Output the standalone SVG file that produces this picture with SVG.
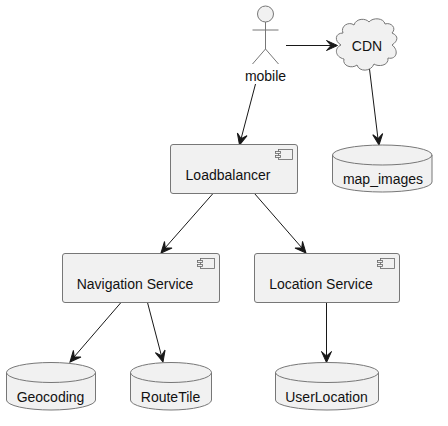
<svg xmlns="http://www.w3.org/2000/svg" width="448" height="426" viewBox="0 0 448 426">
<style>
.s{fill:#F1F1F1;stroke:#666;stroke-width:.8}
.n{fill:#F1F1F1;stroke:#777;stroke-width:1}
.o{fill:none;stroke:#777;stroke-width:1}
.t{font-family:"Liberation Sans",Arial,sans-serif;font-size:14px;fill:#111;text-anchor:middle}
.c{fill:none;stroke:#181818;stroke-width:1}
.a{fill:#181818;stroke:#181818;stroke-width:1;stroke-linejoin:miter}
</style>
<defs>
<path id="h" class="a" d="M0 0L-5 -11L0 -6.500L5 -11Z"/>
<g id="icon"><rect class="s" x="3.500" y="0" width="14" height="10"/><rect class="s" x="0.500" y="2" width="5" height="2"/><rect class="s" x="0.500" y="6" width="5" height="2"/></g>
</defs>
<rect width="448" height="426" fill="#fff"/>
<g id="connectors">
<path class="c" d="M286 45.500H332"/><use href="#h" transform="translate(337.500 45.500) rotate(-90)"/>
<path class="c" d="M369.500 69L378 139"/><use href="#h" transform="translate(379 145) rotate(-6.700)"/>
<path class="c" d="M255.500 84L241 139"/><use href="#h" transform="translate(239.500 145) rotate(14.300)"/>
<path class="c" d="M213 193.500L165 248"/><use href="#h" transform="translate(161 253) rotate(41.400)"/>
<path class="c" d="M254.500 193.500L302 248"/><use href="#h" transform="translate(306 253) rotate(-41.200)"/>
<path class="c" d="M121 302.500L74 357"/><use href="#h" transform="translate(70 362) rotate(40.800)"/>
<path class="c" d="M147.500 302.500L161.500 356"/><use href="#h" transform="translate(163 362) rotate(-14.600)"/>
<path class="c" d="M326.500 302.500V356"/><use href="#h" transform="translate(326.500 362.500)"/>
</g>
<g id="mobile">
<circle class="n" cx="265.500" cy="14" r="8"/>
<path class="o" d="M265.500 22V49M252.500 30H278.500M265.500 49L252.500 64M265.500 49L278.500 64"/>
<text class="t" x="265.500" y="81">mobile</text>
</g>
<g id="CDN">
<path class="n" d="M343 33C340 26 349 21 354 25C356 18 366 18 369 22C373 17 384 18 385 24C391 22 397 28 392 33C399 36 398 41 392 45C399 50 397 60 388 58C389 66 378 67 374 64C371 72 359 72 357 65C352 69 342 66 344 59C335 57 334 48 341 45C334 41 335 33 343 33Z"/>
<text class="t" x="367" y="51">CDN</text>
</g>
<g id="map_images">
<path class="n" d="M332.500 155A49.750 10 0 0 1 432 155V182A49.750 10 0 0 1 332.500 182Z"/>
<path class="o" d="M332.500 155A49.750 10 0 0 0 432 155"/>
<text class="t" x="383" y="184">map_images</text>
</g>
<g id="Loadbalancer">
<rect class="n" x="170.500" y="144.500" width="127" height="49" rx="2.500"/>
<use href="#icon" transform="translate(275 149.500)"/>
<text class="t" x="228" y="180">Loadbalancer</text>
</g>
<g id="NavigationService">
<rect class="n" x="62.500" y="253.500" width="157" height="49" rx="2.500"/>
<use href="#icon" transform="translate(197 258.500)"/>
<text class="t" x="135" y="289">Navigation Service</text>
</g>
<g id="LocationService">
<rect class="n" x="254.500" y="253.500" width="145" height="49" rx="2.500"/>
<use href="#icon" transform="translate(377 258.500)"/>
<text class="t" x="321" y="289">Location Service</text>
</g>
<g id="Geocoding">
<path class="n" d="M6.500 372.500A44.500 10 0 0 1 95.500 372.500V400A44.500 10 0 0 1 6.500 400Z"/>
<path class="o" d="M6.500 372.500A44.500 10 0 0 0 95.500 372.500"/>
<text class="t" x="50.500" y="402">Geocoding</text>
</g>
<g id="RouteTile">
<path class="n" d="M130.500 372.500A40.500 10 0 0 1 211.500 372.500V400A40.500 10 0 0 1 130.500 400Z"/>
<path class="o" d="M130.500 372.500A40.500 10 0 0 0 211.500 372.500"/>
<text class="t" x="170.500" y="402">RouteTile</text>
</g>
<g id="UserLocation">
<path class="n" d="M275.500 372.500A51.500 10 0 0 1 378.500 372.500V400A51.500 10 0 0 1 275.500 400Z"/>
<path class="o" d="M275.500 372.500A51.500 10 0 0 0 378.500 372.500"/>
<text class="t" x="326.500" y="402">UserLocation</text>
</g>
</svg>
